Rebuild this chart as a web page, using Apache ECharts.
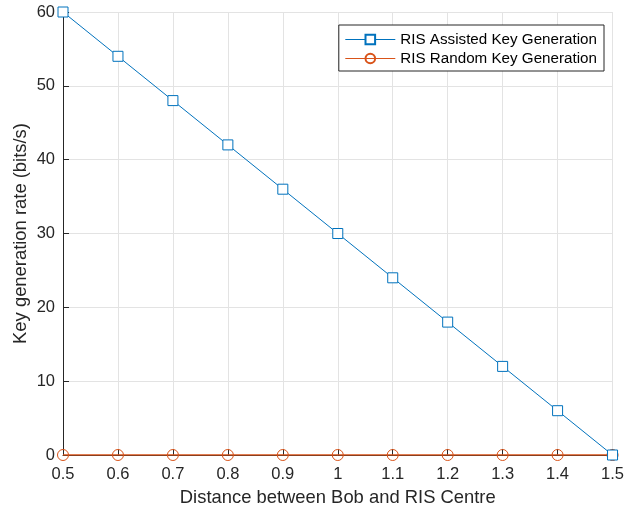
<!DOCTYPE html>
<html>
<head>
<meta charset="utf-8">
<script src="https://cdn.jsdelivr.net/npm/echarts@6/dist/echarts.min.js"></script>
<style>
  html, body { margin: 0; padding: 0; background: #fff; }
  #chart { width: 627px; height: 512px; }
</style>
</head>
<body>
<div id="chart"></div>
<script>
// Distance between Bob and the RIS centre
const distances = [0.5, 0.6, 0.7, 0.8, 0.9, 1.0, 1.1, 1.2, 1.3, 1.4, 1.5];
// Key generation rates (bits/s)
const assistedRate = [60, 54, 48, 42, 36, 30, 24, 18, 12, 6, 0];
const randomRate = [0, 0, 0, 0, 0, 0, 0, 0, 0, 0, 0];
const seriesNames = ['RIS Assisted Key Generation', 'RIS Random Key Generation'];

const FONT = '"Liberation Sans", Arial, Helvetica, sans-serif';
const chart = echarts.init(document.getElementById('chart'));

const pairs = (ys) => distances.map((x, i) => [x, ys[i]]);

chart.setOption({
  animation: false,
  backgroundColor: '#ffffff',
  grid: { left: 63, right: 10, top: 12, bottom: 56 },
  legend: {
    right: 23, top: 25,
    orient: 'vertical',
    backgroundColor: '#ffffff',
    borderColor: '#262626',
    borderWidth: 1,
    borderRadius: 0,
    padding: [7, 7, 5, 6],
    itemGap: 4,
    itemWidth: 50,
    itemHeight: 12,
    lineStyle: { width: 1 },
    textStyle: { fontFamily: FONT, fontSize: 15.2, lineHeight: 15, color: '#000' },
    data: seriesNames
  },
  xAxis: {
    type: 'value',
    min: 0.5, max: 1.5, interval: 0.1,
    name: 'Distance between Bob and RIS Centre',
    nameLocation: 'middle', nameGap: 34,
    nameMoveOverlap: false,
    nameTextStyle: { fontFamily: FONT, fontSize: 18.4, color: '#262626' },
    axisLine: { onZero: false, lineStyle: { color: '#262626', width: 1 } },
    axisTick: { inside: true, length: 6, lineStyle: { color: '#262626' } },
    axisLabel: {
      fontFamily: FONT, fontSize: 16.5, color: '#262626', margin: 11,
      formatter: (v) => { const r = Math.round(v * 10) / 10; return r === 1 ? '1' : r.toFixed(1); }
    },
    splitLine: { show: true, lineStyle: { color: '#e3e3e3', width: 1 } }
  },
  yAxis: {
    type: 'value',
    min: 0, max: 60, interval: 10,
    name: 'Key generation rate (bits/s)',
    nameLocation: 'middle', nameGap: 33,
    nameMoveOverlap: false,
    nameTextStyle: { fontFamily: FONT, fontSize: 18.4, color: '#262626' },
    axisLine: { show: true, lineStyle: { color: '#262626', width: 1 } },
    axisTick: { show: true, inside: true, length: 6, lineStyle: { color: '#262626' } },
    axisLabel: { fontFamily: FONT, fontSize: 16.5, color: '#262626', margin: 8 },
    splitLine: { show: true, lineStyle: { color: '#e3e3e3', width: 1 } }
  },
  series: [
    {
      name: seriesNames[0],
      type: 'line',
      data: pairs(assistedRate),
      symbol: 'rect', symbolSize: 10,
      showAllSymbol: true,
      color: '#0072BD',
      lineStyle: { color: '#0072BD', width: 1 },
      itemStyle: { color: '#ffffff', borderColor: '#0072BD', borderWidth: 1 },
      z: 3
    },
    {
      name: seriesNames[1],
      type: 'line',
      data: pairs(randomRate),
      symbol: 'circle', symbolSize: 11,
      showAllSymbol: true,
      color: '#D95319',
      lineStyle: { color: '#D95319', width: 1.5 },
      itemStyle: { color: 'rgba(255,255,255,0)', borderColor: '#D95319', borderWidth: 1 },
      z: 2
    }
  ]
});
</script>
</body>
</html>
